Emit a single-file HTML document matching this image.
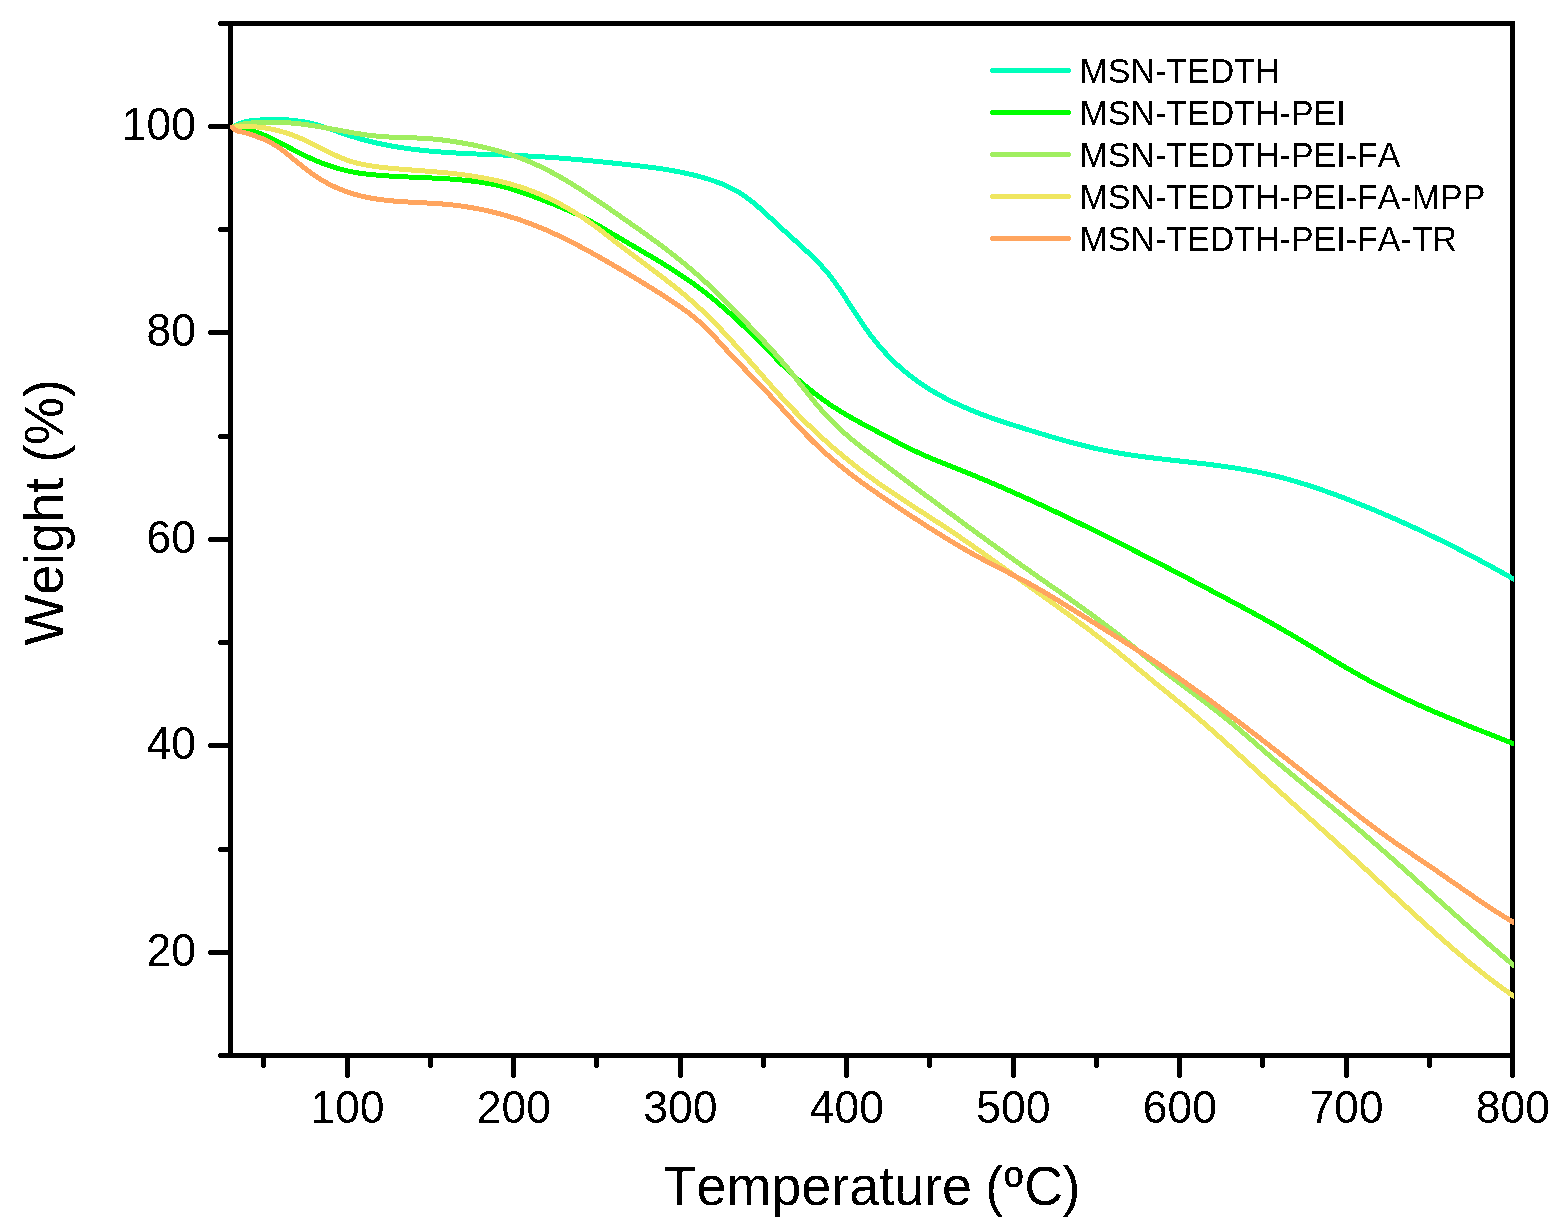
<!DOCTYPE html>
<html lang="en"><head><meta charset="utf-8"><title>TGA curves</title>
<style>html,body{margin:0;padding:0;background:#fff}svg{display:block}text{font-family:"Liberation Sans", sans-serif;fill:#000;font-kerning:none;font-variant-ligatures:none}</style></head><body>
<svg width="1558" height="1225" viewBox="0 0 1558 1225">
<rect x="0" y="0" width="1558" height="1225" fill="#fff"/>
<defs><filter id="hard" x="-5%" y="-20%" width="110%" height="140%" color-interpolation-filters="sRGB"><feComponentTransfer><feFuncA type="discrete" tableValues="0 1"/></feComponentTransfer></filter><clipPath id="plot"><rect x="225" y="20" width="1289" height="1040"/></clipPath></defs>
<g fill="#000" shape-rendering="crispEdges">
<rect x="228" y="21" width="5" height="1037"/>
<rect x="1510" y="21" width="5" height="1056"/><rect x="1511" y="1077" width="3" height="1"/>
<rect x="219" y="21" width="1296" height="5"/><rect x="218" y="22" width="1" height="3"/>
<rect x="219" y="1053" width="1296" height="5"/><rect x="218" y="1054" width="1" height="3"/>
<rect x="209" y="950" width="20" height="5"/><rect x="208" y="951" width="1" height="3"/>
<rect x="209" y="743" width="20" height="5"/><rect x="208" y="744" width="1" height="3"/>
<rect x="209" y="537" width="20" height="5"/><rect x="208" y="538" width="1" height="3"/>
<rect x="209" y="330" width="20" height="5"/><rect x="208" y="331" width="1" height="3"/>
<rect x="209" y="124" width="20" height="5"/><rect x="208" y="125" width="1" height="3"/>
<rect x="219" y="847" width="10" height="5"/><rect x="218" y="848" width="1" height="3"/>
<rect x="219" y="640" width="10" height="5"/><rect x="218" y="641" width="1" height="3"/>
<rect x="219" y="434" width="10" height="5"/><rect x="218" y="435" width="1" height="3"/>
<rect x="219" y="227" width="10" height="5"/><rect x="218" y="228" width="1" height="3"/>
<rect x="345" y="1057" width="5" height="20"/><rect x="346" y="1077" width="3" height="1"/>
<rect x="511" y="1057" width="5" height="20"/><rect x="512" y="1077" width="3" height="1"/>
<rect x="678" y="1057" width="5" height="20"/><rect x="679" y="1077" width="3" height="1"/>
<rect x="844" y="1057" width="5" height="20"/><rect x="845" y="1077" width="3" height="1"/>
<rect x="1011" y="1057" width="5" height="20"/><rect x="1012" y="1077" width="3" height="1"/>
<rect x="1177" y="1057" width="5" height="20"/><rect x="1178" y="1077" width="3" height="1"/>
<rect x="1344" y="1057" width="5" height="20"/><rect x="1345" y="1077" width="3" height="1"/>
<rect x="261" y="1057" width="5" height="10"/><rect x="262" y="1067" width="3" height="1"/>
<rect x="428" y="1057" width="5" height="10"/><rect x="429" y="1067" width="3" height="1"/>
<rect x="594" y="1057" width="5" height="10"/><rect x="595" y="1067" width="3" height="1"/>
<rect x="761" y="1057" width="5" height="10"/><rect x="762" y="1067" width="3" height="1"/>
<rect x="927" y="1057" width="5" height="10"/><rect x="928" y="1067" width="3" height="1"/>
<rect x="1094" y="1057" width="5" height="10"/><rect x="1095" y="1067" width="3" height="1"/>
<rect x="1260" y="1057" width="5" height="10"/><rect x="1261" y="1067" width="3" height="1"/>
<rect x="1427" y="1057" width="5" height="10"/><rect x="1428" y="1067" width="3" height="1"/>
</g>
<g fill="none" stroke-width="5" stroke-linejoin="round" stroke-linecap="butt" shape-rendering="crispEdges" clip-path="url(#plot)">
<path stroke="#00FFBC" d="M232.3,127.30 L234.3,126.07 L236.3,125.00 L238.3,124.08 L240.3,123.28 L242.3,122.61 L244.3,122.05 L246.3,121.58 L248.3,121.20 L250.3,120.89 L252.3,120.64 L254.3,120.44 L256.3,120.28 L258.3,120.14 L260.3,120.01 L262.3,119.90 L264.3,119.80 L266.3,119.72 L268.3,119.65 L270.3,119.60 L272.3,119.56 L274.3,119.54 L276.3,119.54 L278.3,119.56 L280.3,119.60 L282.3,119.66 L284.3,119.74 L286.3,119.85 L288.3,119.98 L290.3,120.14 L292.3,120.32 L294.3,120.52 L296.3,120.76 L298.3,121.02 L300.3,121.31 L302.3,121.63 L304.3,121.99 L306.3,122.37 L308.3,122.79 L310.3,123.24 L312.3,123.72 L314.3,124.23 L316.3,124.76 L318.3,125.33 L320.3,125.91 L322.3,126.51 L324.3,127.14 L326.3,127.78 L328.3,128.43 L330.3,129.09 L332.3,129.76 L334.3,130.44 L336.3,131.13 L338.3,131.81 L340.3,132.50 L342.3,133.18 L344.3,133.86 L346.3,134.54 L348.3,135.20 L350.3,135.86 L352.3,136.50 L354.3,137.13 L356.3,137.73 L358.3,138.33 L360.3,138.90 L362.3,139.45 L364.3,140.00 L366.3,140.52 L368.3,141.03 L370.3,141.52 L372.3,142.00 L374.3,142.47 L376.3,142.92 L378.3,143.36 L380.3,143.79 L382.3,144.20 L384.3,144.61 L386.3,145.00 L388.3,145.38 L390.3,145.75 L392.3,146.11 L394.3,146.46 L396.3,146.79 L398.3,147.12 L400.3,147.44 L402.3,147.74 L404.3,148.04 L406.3,148.33 L408.3,148.61 L410.3,148.88 L412.3,149.14 L414.3,149.39 L416.3,149.63 L418.3,149.87 L420.3,150.10 L422.3,150.31 L424.3,150.53 L426.3,150.73 L428.3,150.93 L430.3,151.12 L432.3,151.30 L434.3,151.48 L436.3,151.64 L438.3,151.81 L440.3,151.97 L442.3,152.12 L444.3,152.26 L446.3,152.40 L448.3,152.54 L450.3,152.67 L452.3,152.80 L454.3,152.92 L456.3,153.03 L458.3,153.15 L460.3,153.25 L462.3,153.36 L464.3,153.46 L466.3,153.56 L468.3,153.65 L470.3,153.75 L472.3,153.83 L474.3,153.92 L476.3,154.00 L478.3,154.09 L480.3,154.17 L482.3,154.25 L484.3,154.32 L486.3,154.40 L488.3,154.47 L490.3,154.55 L492.3,154.62 L494.3,154.69 L496.3,154.76 L498.3,154.84 L500.3,154.91 L502.3,154.98 L504.3,155.05 L506.3,155.13 L508.3,155.20 L510.3,155.28 L512.3,155.36 L514.3,155.44 L516.3,155.52 L518.3,155.60 L520.3,155.68 L522.3,155.77 L524.3,155.86 L526.3,155.95 L528.3,156.05 L530.3,156.15 L532.3,156.25 L534.3,156.36 L536.3,156.47 L538.3,156.58 L540.3,156.70 L542.3,156.82 L544.3,156.95 L546.3,157.08 L548.3,157.21 L550.3,157.35 L552.3,157.49 L554.3,157.64 L556.3,157.79 L558.3,157.94 L560.3,158.09 L562.3,158.25 L564.3,158.41 L566.3,158.58 L568.3,158.75 L570.3,158.92 L572.3,159.09 L574.3,159.27 L576.3,159.45 L578.3,159.63 L580.3,159.81 L582.3,160.00 L584.3,160.18 L586.3,160.37 L588.3,160.57 L590.3,160.76 L592.3,160.95 L594.3,161.15 L596.3,161.35 L598.3,161.55 L600.3,161.75 L602.3,161.96 L604.3,162.16 L606.3,162.37 L608.3,162.58 L610.3,162.78 L612.3,162.99 L614.3,163.20 L616.3,163.41 L618.3,163.62 L620.3,163.84 L622.3,164.05 L624.3,164.26 L626.3,164.47 L628.3,164.69 L630.3,164.90 L632.3,165.12 L634.3,165.34 L636.3,165.57 L638.3,165.80 L640.3,166.03 L642.3,166.26 L644.3,166.50 L646.3,166.75 L648.3,167.00 L650.3,167.26 L652.3,167.52 L654.3,167.79 L656.3,168.06 L658.3,168.35 L660.3,168.64 L662.3,168.94 L664.3,169.25 L666.3,169.57 L668.3,169.90 L670.3,170.24 L672.3,170.58 L674.3,170.94 L676.3,171.31 L678.3,171.70 L680.3,172.09 L682.3,172.50 L684.3,172.92 L686.3,173.35 L688.3,173.80 L690.3,174.26 L692.3,174.74 L694.3,175.23 L696.3,175.73 L698.3,176.26 L700.3,176.79 L702.3,177.35 L704.3,177.92 L706.3,178.51 L708.3,179.12 L710.3,179.75 L712.3,180.40 L714.3,181.08 L716.3,181.79 L718.3,182.52 L720.3,183.29 L722.3,184.09 L724.3,184.94 L726.3,185.82 L728.3,186.74 L730.3,187.70 L732.3,188.71 L734.3,189.77 L736.3,190.89 L738.3,192.05 L740.3,193.27 L742.3,194.55 L744.3,195.88 L746.3,197.28 L748.3,198.75 L750.3,200.27 L752.3,201.85 L754.3,203.49 L756.3,205.16 L758.3,206.89 L760.3,208.64 L762.3,210.43 L764.3,212.25 L766.3,214.09 L768.3,215.94 L770.3,217.81 L772.3,219.69 L774.3,221.56 L776.3,223.44 L778.3,225.31 L780.3,227.16 L782.3,229.01 L784.3,230.83 L786.3,232.65 L788.3,234.46 L790.3,236.26 L792.3,238.06 L794.3,239.87 L796.3,241.67 L798.3,243.48 L800.3,245.30 L802.3,247.13 L804.3,248.98 L806.3,250.84 L808.3,252.73 L810.3,254.64 L812.3,256.57 L814.3,258.53 L816.3,260.53 L818.3,262.57 L820.3,264.66 L822.3,266.82 L824.3,269.04 L826.3,271.35 L828.3,273.74 L830.3,276.23 L832.3,278.83 L834.3,281.53 L836.3,284.32 L838.3,287.18 L840.3,290.11 L842.3,293.10 L844.3,296.13 L846.3,299.19 L848.3,302.28 L850.3,305.38 L852.3,308.48 L854.3,311.57 L856.3,314.64 L858.3,317.68 L860.3,320.68 L862.3,323.63 L864.3,326.51 L866.3,329.33 L868.3,332.07 L870.3,334.75 L872.3,337.36 L874.3,339.90 L876.3,342.38 L878.3,344.80 L880.3,347.15 L882.3,349.44 L884.3,351.68 L886.3,353.85 L888.3,355.97 L890.3,358.04 L892.3,360.05 L894.3,362.01 L896.3,363.91 L898.3,365.77 L900.3,367.58 L902.3,369.34 L904.3,371.05 L906.3,372.72 L908.3,374.35 L910.3,375.93 L912.3,377.47 L914.3,378.98 L916.3,380.44 L918.3,381.87 L920.3,383.26 L922.3,384.62 L924.3,385.94 L926.3,387.24 L928.3,388.50 L930.3,389.73 L932.3,390.94 L934.3,392.12 L936.3,393.27 L938.3,394.40 L940.3,395.50 L942.3,396.59 L944.3,397.65 L946.3,398.70 L948.3,399.72 L950.3,400.73 L952.3,401.71 L954.3,402.68 L956.3,403.63 L958.3,404.56 L960.3,405.47 L962.3,406.37 L964.3,407.25 L966.3,408.11 L968.3,408.96 L970.3,409.80 L972.3,410.62 L974.3,411.43 L976.3,412.22 L978.3,413.00 L980.3,413.77 L982.3,414.53 L984.3,415.28 L986.3,416.01 L988.3,416.74 L990.3,417.45 L992.3,418.16 L994.3,418.86 L996.3,419.55 L998.3,420.23 L1000.3,420.90 L1002.3,421.57 L1004.3,422.23 L1006.3,422.88 L1008.3,423.53 L1010.3,424.17 L1012.3,424.81 L1014.3,425.45 L1016.3,426.08 L1018.3,426.71 L1020.3,427.34 L1022.3,427.96 L1024.3,428.58 L1026.3,429.21 L1028.3,429.83 L1030.3,430.44 L1032.3,431.06 L1034.3,431.67 L1036.3,432.29 L1038.3,432.90 L1040.3,433.50 L1042.3,434.11 L1044.3,434.71 L1046.3,435.31 L1048.3,435.90 L1050.3,436.49 L1052.3,437.08 L1054.3,437.66 L1056.3,438.24 L1058.3,438.81 L1060.3,439.38 L1062.3,439.94 L1064.3,440.50 L1066.3,441.05 L1068.3,441.60 L1070.3,442.15 L1072.3,442.68 L1074.3,443.21 L1076.3,443.74 L1078.3,444.25 L1080.3,444.76 L1082.3,445.27 L1084.3,445.76 L1086.3,446.25 L1088.3,446.74 L1090.3,447.21 L1092.3,447.68 L1094.3,448.13 L1096.3,448.58 L1098.3,449.02 L1100.3,449.46 L1102.3,449.88 L1104.3,450.29 L1106.3,450.70 L1108.3,451.09 L1110.3,451.48 L1112.3,451.86 L1114.3,452.22 L1116.3,452.58 L1118.3,452.93 L1120.3,453.28 L1122.3,453.61 L1124.3,453.94 L1126.3,454.26 L1128.3,454.57 L1130.3,454.88 L1132.3,455.17 L1134.3,455.47 L1136.3,455.75 L1138.3,456.04 L1140.3,456.31 L1142.3,456.58 L1144.3,456.85 L1146.3,457.11 L1148.3,457.36 L1150.3,457.62 L1152.3,457.86 L1154.3,458.11 L1156.3,458.35 L1158.3,458.59 L1160.3,458.82 L1162.3,459.06 L1164.3,459.29 L1166.3,459.52 L1168.3,459.74 L1170.3,459.97 L1172.3,460.19 L1174.3,460.42 L1176.3,460.64 L1178.3,460.86 L1180.3,461.08 L1182.3,461.31 L1184.3,461.53 L1186.3,461.75 L1188.3,461.98 L1190.3,462.20 L1192.3,462.43 L1194.3,462.66 L1196.3,462.89 L1198.3,463.13 L1200.3,463.36 L1202.3,463.60 L1204.3,463.84 L1206.3,464.08 L1208.3,464.33 L1210.3,464.58 L1212.3,464.84 L1214.3,465.10 L1216.3,465.36 L1218.3,465.62 L1220.3,465.90 L1222.3,466.17 L1224.3,466.45 L1226.3,466.74 L1228.3,467.03 L1230.3,467.33 L1232.3,467.63 L1234.3,467.94 L1236.3,468.26 L1238.3,468.58 L1240.3,468.91 L1242.3,469.25 L1244.3,469.59 L1246.3,469.94 L1248.3,470.30 L1250.3,470.66 L1252.3,471.04 L1254.3,471.42 L1256.3,471.81 L1258.3,472.21 L1260.3,472.62 L1262.3,473.04 L1264.3,473.47 L1266.3,473.90 L1268.3,474.35 L1270.3,474.81 L1272.3,475.27 L1274.3,475.75 L1276.3,476.24 L1278.3,476.74 L1280.3,477.25 L1282.3,477.76 L1284.3,478.29 L1286.3,478.83 L1288.3,479.38 L1290.3,479.94 L1292.3,480.51 L1294.3,481.08 L1296.3,481.67 L1298.3,482.26 L1300.3,482.87 L1302.3,483.48 L1304.3,484.10 L1306.3,484.73 L1308.3,485.37 L1310.3,486.01 L1312.3,486.67 L1314.3,487.33 L1316.3,488.00 L1318.3,488.67 L1320.3,489.36 L1322.3,490.05 L1324.3,490.75 L1326.3,491.45 L1328.3,492.17 L1330.3,492.88 L1332.3,493.61 L1334.3,494.34 L1336.3,495.08 L1338.3,495.82 L1340.3,496.57 L1342.3,497.33 L1344.3,498.09 L1346.3,498.86 L1348.3,499.63 L1350.3,500.41 L1352.3,501.19 L1354.3,501.98 L1356.3,502.77 L1358.3,503.57 L1360.3,504.37 L1362.3,505.17 L1364.3,505.98 L1366.3,506.80 L1368.3,507.62 L1370.3,508.44 L1372.3,509.27 L1374.3,510.10 L1376.3,510.94 L1378.3,511.78 L1380.3,512.63 L1382.3,513.48 L1384.3,514.34 L1386.3,515.20 L1388.3,516.06 L1390.3,516.93 L1392.3,517.80 L1394.3,518.68 L1396.3,519.56 L1398.3,520.45 L1400.3,521.34 L1402.3,522.24 L1404.3,523.14 L1406.3,524.04 L1408.3,524.95 L1410.3,525.86 L1412.3,526.78 L1414.3,527.70 L1416.3,528.63 L1418.3,529.56 L1420.3,530.50 L1422.3,531.44 L1424.3,532.38 L1426.3,533.33 L1428.3,534.29 L1430.3,535.25 L1432.3,536.21 L1434.3,537.17 L1436.3,538.15 L1438.3,539.12 L1440.3,540.10 L1442.3,541.09 L1444.3,542.08 L1446.3,543.07 L1448.3,544.07 L1450.3,545.07 L1452.3,546.08 L1454.3,547.09 L1456.3,548.10 L1458.3,549.12 L1460.3,550.15 L1462.3,551.18 L1464.3,552.21 L1466.3,553.25 L1468.3,554.29 L1470.3,555.34 L1472.3,556.39 L1474.3,557.44 L1476.3,558.50 L1478.3,559.57 L1480.3,560.64 L1482.3,561.71 L1484.3,562.79 L1486.3,563.87 L1488.3,564.95 L1490.3,566.04 L1492.3,567.14 L1494.3,568.24 L1496.3,569.34 L1498.3,570.45 L1500.3,571.56 L1502.3,572.68 L1504.3,573.80 L1506.3,574.92 L1508.3,576.05 L1510.3,577.19 L1512.3,578.33 L1514.3,579.47 L1516.3,580.61 L1518.0,581.59"/>
<circle cx="232.3" cy="127.3" r="2.5" fill="#00FFBC" stroke="none"/>
<path stroke="#00FF00" d="M232.3,127.30 L234.3,127.40 L236.3,127.55 L238.3,127.77 L240.3,128.05 L242.3,128.39 L244.3,128.78 L246.3,129.22 L248.3,129.71 L250.3,130.26 L252.3,130.85 L254.3,131.48 L256.3,132.16 L258.3,132.88 L260.3,133.63 L262.3,134.43 L264.3,135.26 L266.3,136.12 L268.3,137.01 L270.3,137.93 L272.3,138.88 L274.3,139.85 L276.3,140.84 L278.3,141.86 L280.3,142.89 L282.3,143.93 L284.3,144.99 L286.3,146.04 L288.3,147.11 L290.3,148.17 L292.3,149.22 L294.3,150.27 L296.3,151.31 L298.3,152.34 L300.3,153.36 L302.3,154.36 L304.3,155.34 L306.3,156.30 L308.3,157.24 L310.3,158.16 L312.3,159.05 L314.3,159.93 L316.3,160.77 L318.3,161.60 L320.3,162.40 L322.3,163.17 L324.3,163.92 L326.3,164.65 L328.3,165.35 L330.3,166.03 L332.3,166.69 L334.3,167.32 L336.3,167.92 L338.3,168.50 L340.3,169.06 L342.3,169.59 L344.3,170.10 L346.3,170.58 L348.3,171.04 L350.3,171.47 L352.3,171.87 L354.3,172.26 L356.3,172.61 L358.3,172.94 L360.3,173.25 L362.3,173.54 L364.3,173.81 L366.3,174.06 L368.3,174.29 L370.3,174.50 L372.3,174.70 L374.3,174.89 L376.3,175.07 L378.3,175.24 L380.3,175.40 L382.3,175.55 L384.3,175.69 L386.3,175.83 L388.3,175.96 L390.3,176.09 L392.3,176.20 L394.3,176.32 L396.3,176.43 L398.3,176.53 L400.3,176.63 L402.3,176.73 L404.3,176.82 L406.3,176.91 L408.3,177.00 L410.3,177.08 L412.3,177.17 L414.3,177.25 L416.3,177.33 L418.3,177.42 L420.3,177.50 L422.3,177.58 L424.3,177.67 L426.3,177.75 L428.3,177.84 L430.3,177.93 L432.3,178.02 L434.3,178.12 L436.3,178.22 L438.3,178.32 L440.3,178.43 L442.3,178.54 L444.3,178.66 L446.3,178.78 L448.3,178.91 L450.3,179.05 L452.3,179.19 L454.3,179.34 L456.3,179.50 L458.3,179.67 L460.3,179.84 L462.3,180.02 L464.3,180.22 L466.3,180.42 L468.3,180.63 L470.3,180.86 L472.3,181.10 L474.3,181.35 L476.3,181.61 L478.3,181.89 L480.3,182.18 L482.3,182.48 L484.3,182.80 L486.3,183.14 L488.3,183.50 L490.3,183.87 L492.3,184.26 L494.3,184.67 L496.3,185.10 L498.3,185.54 L500.3,186.01 L502.3,186.50 L504.3,187.02 L506.3,187.55 L508.3,188.11 L510.3,188.68 L512.3,189.28 L514.3,189.89 L516.3,190.52 L518.3,191.17 L520.3,191.83 L522.3,192.51 L524.3,193.20 L526.3,193.90 L528.3,194.62 L530.3,195.34 L532.3,196.07 L534.3,196.81 L536.3,197.55 L538.3,198.31 L540.3,199.06 L542.3,199.82 L544.3,200.59 L546.3,201.36 L548.3,202.14 L550.3,202.93 L552.3,203.72 L554.3,204.53 L556.3,205.34 L558.3,206.16 L560.3,207.00 L562.3,207.84 L564.3,208.70 L566.3,209.56 L568.3,210.44 L570.3,211.34 L572.3,212.25 L574.3,213.17 L576.3,214.11 L578.3,215.06 L580.3,216.03 L582.3,217.02 L584.3,218.03 L586.3,219.05 L588.3,220.09 L590.3,221.15 L592.3,222.23 L594.3,223.33 L596.3,224.44 L598.3,225.56 L600.3,226.70 L602.3,227.85 L604.3,229.01 L606.3,230.17 L608.3,231.35 L610.3,232.53 L612.3,233.71 L614.3,234.89 L616.3,236.08 L618.3,237.27 L620.3,238.45 L622.3,239.63 L624.3,240.81 L626.3,241.99 L628.3,243.16 L630.3,244.33 L632.3,245.50 L634.3,246.66 L636.3,247.83 L638.3,249.00 L640.3,250.17 L642.3,251.34 L644.3,252.51 L646.3,253.69 L648.3,254.87 L650.3,256.05 L652.3,257.24 L654.3,258.43 L656.3,259.63 L658.3,260.84 L660.3,262.05 L662.3,263.27 L664.3,264.50 L666.3,265.74 L668.3,266.99 L670.3,268.25 L672.3,269.52 L674.3,270.81 L676.3,272.10 L678.3,273.41 L680.3,274.73 L682.3,276.07 L684.3,277.42 L686.3,278.78 L688.3,280.17 L690.3,281.56 L692.3,282.98 L694.3,284.41 L696.3,285.87 L698.3,287.34 L700.3,288.83 L702.3,290.34 L704.3,291.88 L706.3,293.43 L708.3,295.01 L710.3,296.61 L712.3,298.23 L714.3,299.87 L716.3,301.53 L718.3,303.21 L720.3,304.91 L722.3,306.63 L724.3,308.37 L726.3,310.13 L728.3,311.90 L730.3,313.70 L732.3,315.51 L734.3,317.34 L736.3,319.18 L738.3,321.05 L740.3,322.92 L742.3,324.82 L744.3,326.73 L746.3,328.65 L748.3,330.59 L750.3,332.55 L752.3,334.52 L754.3,336.50 L756.3,338.49 L758.3,340.50 L760.3,342.52 L762.3,344.55 L764.3,346.58 L766.3,348.62 L768.3,350.66 L770.3,352.70 L772.3,354.73 L774.3,356.76 L776.3,358.78 L778.3,360.79 L780.3,362.79 L782.3,364.77 L784.3,366.73 L786.3,368.67 L788.3,370.59 L790.3,372.48 L792.3,374.35 L794.3,376.18 L796.3,377.99 L798.3,379.78 L800.3,381.53 L802.3,383.26 L804.3,384.96 L806.3,386.63 L808.3,388.28 L810.3,389.90 L812.3,391.50 L814.3,393.06 L816.3,394.61 L818.3,396.13 L820.3,397.62 L822.3,399.08 L824.3,400.53 L826.3,401.94 L828.3,403.34 L830.3,404.71 L832.3,406.05 L834.3,407.37 L836.3,408.67 L838.3,409.94 L840.3,411.19 L842.3,412.41 L844.3,413.62 L846.3,414.80 L848.3,415.97 L850.3,417.12 L852.3,418.25 L854.3,419.37 L856.3,420.47 L858.3,421.56 L860.3,422.65 L862.3,423.72 L864.3,424.79 L866.3,425.86 L868.3,426.92 L870.3,427.97 L872.3,429.03 L874.3,430.09 L876.3,431.15 L878.3,432.21 L880.3,433.27 L882.3,434.33 L884.3,435.39 L886.3,436.45 L888.3,437.50 L890.3,438.56 L892.3,439.61 L894.3,440.65 L896.3,441.69 L898.3,442.73 L900.3,443.76 L902.3,444.78 L904.3,445.79 L906.3,446.79 L908.3,447.79 L910.3,448.78 L912.3,449.75 L914.3,450.71 L916.3,451.66 L918.3,452.60 L920.3,453.53 L922.3,454.44 L924.3,455.34 L926.3,456.22 L928.3,457.08 L930.3,457.94 L932.3,458.78 L934.3,459.61 L936.3,460.43 L938.3,461.24 L940.3,462.05 L942.3,462.85 L944.3,463.64 L946.3,464.44 L948.3,465.22 L950.3,466.01 L952.3,466.80 L954.3,467.59 L956.3,468.38 L958.3,469.17 L960.3,469.97 L962.3,470.77 L964.3,471.58 L966.3,472.39 L968.3,473.20 L970.3,474.02 L972.3,474.84 L974.3,475.66 L976.3,476.49 L978.3,477.32 L980.3,478.15 L982.3,478.99 L984.3,479.83 L986.3,480.67 L988.3,481.52 L990.3,482.37 L992.3,483.22 L994.3,484.08 L996.3,484.94 L998.3,485.80 L1000.3,486.67 L1002.3,487.54 L1004.3,488.41 L1006.3,489.29 L1008.3,490.17 L1010.3,491.05 L1012.3,491.94 L1014.3,492.82 L1016.3,493.71 L1018.3,494.61 L1020.3,495.51 L1022.3,496.41 L1024.3,497.31 L1026.3,498.21 L1028.3,499.12 L1030.3,500.03 L1032.3,500.95 L1034.3,501.87 L1036.3,502.79 L1038.3,503.71 L1040.3,504.63 L1042.3,505.56 L1044.3,506.49 L1046.3,507.42 L1048.3,508.36 L1050.3,509.30 L1052.3,510.24 L1054.3,511.18 L1056.3,512.13 L1058.3,513.08 L1060.3,514.03 L1062.3,514.98 L1064.3,515.93 L1066.3,516.89 L1068.3,517.85 L1070.3,518.81 L1072.3,519.78 L1074.3,520.75 L1076.3,521.71 L1078.3,522.68 L1080.3,523.66 L1082.3,524.63 L1084.3,525.61 L1086.3,526.59 L1088.3,527.57 L1090.3,528.55 L1092.3,529.54 L1094.3,530.53 L1096.3,531.52 L1098.3,532.51 L1100.3,533.50 L1102.3,534.49 L1104.3,535.49 L1106.3,536.49 L1108.3,537.49 L1110.3,538.49 L1112.3,539.49 L1114.3,540.50 L1116.3,541.51 L1118.3,542.51 L1120.3,543.52 L1122.3,544.54 L1124.3,545.55 L1126.3,546.56 L1128.3,547.58 L1130.3,548.60 L1132.3,549.61 L1134.3,550.63 L1136.3,551.66 L1138.3,552.68 L1140.3,553.70 L1142.3,554.73 L1144.3,555.75 L1146.3,556.78 L1148.3,557.81 L1150.3,558.84 L1152.3,559.87 L1154.3,560.91 L1156.3,561.94 L1158.3,562.97 L1160.3,564.01 L1162.3,565.05 L1164.3,566.08 L1166.3,567.12 L1168.3,568.16 L1170.3,569.20 L1172.3,570.24 L1174.3,571.28 L1176.3,572.33 L1178.3,573.37 L1180.3,574.41 L1182.3,575.46 L1184.3,576.50 L1186.3,577.55 L1188.3,578.60 L1190.3,579.65 L1192.3,580.69 L1194.3,581.74 L1196.3,582.79 L1198.3,583.84 L1200.3,584.89 L1202.3,585.94 L1204.3,586.99 L1206.3,588.04 L1208.3,589.10 L1210.3,590.15 L1212.3,591.20 L1214.3,592.25 L1216.3,593.31 L1218.3,594.36 L1220.3,595.42 L1222.3,596.48 L1224.3,597.53 L1226.3,598.59 L1228.3,599.66 L1230.3,600.72 L1232.3,601.79 L1234.3,602.85 L1236.3,603.92 L1238.3,604.99 L1240.3,606.07 L1242.3,607.14 L1244.3,608.22 L1246.3,609.30 L1248.3,610.39 L1250.3,611.48 L1252.3,612.57 L1254.3,613.66 L1256.3,614.76 L1258.3,615.86 L1260.3,616.96 L1262.3,618.07 L1264.3,619.18 L1266.3,620.30 L1268.3,621.42 L1270.3,622.54 L1272.3,623.67 L1274.3,624.80 L1276.3,625.94 L1278.3,627.08 L1280.3,628.23 L1282.3,629.38 L1284.3,630.54 L1286.3,631.70 L1288.3,632.87 L1290.3,634.04 L1292.3,635.22 L1294.3,636.41 L1296.3,637.60 L1298.3,638.79 L1300.3,639.99 L1302.3,641.19 L1304.3,642.39 L1306.3,643.60 L1308.3,644.81 L1310.3,646.02 L1312.3,647.24 L1314.3,648.45 L1316.3,649.67 L1318.3,650.88 L1320.3,652.10 L1322.3,653.31 L1324.3,654.53 L1326.3,655.74 L1328.3,656.95 L1330.3,658.16 L1332.3,659.37 L1334.3,660.57 L1336.3,661.77 L1338.3,662.97 L1340.3,664.16 L1342.3,665.35 L1344.3,666.53 L1346.3,667.71 L1348.3,668.88 L1350.3,670.04 L1352.3,671.20 L1354.3,672.35 L1356.3,673.49 L1358.3,674.63 L1360.3,675.76 L1362.3,676.87 L1364.3,677.98 L1366.3,679.08 L1368.3,680.17 L1370.3,681.25 L1372.3,682.32 L1374.3,683.38 L1376.3,684.44 L1378.3,685.48 L1380.3,686.51 L1382.3,687.54 L1384.3,688.56 L1386.3,689.57 L1388.3,690.57 L1390.3,691.56 L1392.3,692.55 L1394.3,693.53 L1396.3,694.50 L1398.3,695.46 L1400.3,696.42 L1402.3,697.37 L1404.3,698.31 L1406.3,699.25 L1408.3,700.18 L1410.3,701.10 L1412.3,702.01 L1414.3,702.92 L1416.3,703.83 L1418.3,704.73 L1420.3,705.62 L1422.3,706.51 L1424.3,707.39 L1426.3,708.27 L1428.3,709.14 L1430.3,710.00 L1432.3,710.87 L1434.3,711.72 L1436.3,712.58 L1438.3,713.43 L1440.3,714.27 L1442.3,715.11 L1444.3,715.95 L1446.3,716.78 L1448.3,717.61 L1450.3,718.44 L1452.3,719.26 L1454.3,720.08 L1456.3,720.90 L1458.3,721.71 L1460.3,722.52 L1462.3,723.33 L1464.3,724.14 L1466.3,724.95 L1468.3,725.75 L1470.3,726.55 L1472.3,727.35 L1474.3,728.15 L1476.3,728.94 L1478.3,729.74 L1480.3,730.53 L1482.3,731.33 L1484.3,732.12 L1486.3,732.91 L1488.3,733.71 L1490.3,734.50 L1492.3,735.29 L1494.3,736.08 L1496.3,736.87 L1498.3,737.66 L1500.3,738.45 L1502.3,739.25 L1504.3,740.04 L1506.3,740.84 L1508.3,741.63 L1510.3,742.43 L1512.3,743.23 L1514.3,744.03 L1516.3,744.83 L1518.0,745.51"/>
<circle cx="232.3" cy="127.3" r="2.5" fill="#00FF00" stroke="none"/>
<path stroke="#A0EE60" d="M232.3,127.30 L234.3,126.47 L236.3,125.76 L238.3,125.15 L240.3,124.63 L242.3,124.19 L244.3,123.83 L246.3,123.53 L248.3,123.29 L250.3,123.10 L252.3,122.94 L254.3,122.82 L256.3,122.72 L258.3,122.63 L260.3,122.55 L262.3,122.47 L264.3,122.40 L266.3,122.34 L268.3,122.30 L270.3,122.26 L272.3,122.24 L274.3,122.24 L276.3,122.26 L278.3,122.30 L280.3,122.36 L282.3,122.44 L284.3,122.54 L286.3,122.66 L288.3,122.79 L290.3,122.94 L292.3,123.11 L294.3,123.29 L296.3,123.49 L298.3,123.70 L300.3,123.93 L302.3,124.18 L304.3,124.43 L306.3,124.70 L308.3,124.98 L310.3,125.28 L312.3,125.58 L314.3,125.89 L316.3,126.22 L318.3,126.55 L320.3,126.89 L322.3,127.24 L324.3,127.59 L326.3,127.95 L328.3,128.31 L330.3,128.68 L332.3,129.04 L334.3,129.41 L336.3,129.79 L338.3,130.16 L340.3,130.53 L342.3,130.89 L344.3,131.26 L346.3,131.62 L348.3,131.98 L350.3,132.33 L352.3,132.68 L354.3,133.02 L356.3,133.35 L358.3,133.68 L360.3,133.99 L362.3,134.29 L364.3,134.59 L366.3,134.87 L368.3,135.14 L370.3,135.39 L372.3,135.63 L374.3,135.86 L376.3,136.07 L378.3,136.26 L380.3,136.43 L382.3,136.59 L384.3,136.73 L386.3,136.86 L388.3,136.97 L390.3,137.08 L392.3,137.17 L394.3,137.25 L396.3,137.33 L398.3,137.40 L400.3,137.47 L402.3,137.53 L404.3,137.59 L406.3,137.65 L408.3,137.71 L410.3,137.77 L412.3,137.83 L414.3,137.90 L416.3,137.97 L418.3,138.05 L420.3,138.14 L422.3,138.24 L424.3,138.35 L426.3,138.47 L428.3,138.61 L430.3,138.76 L432.3,138.93 L434.3,139.11 L436.3,139.30 L438.3,139.51 L440.3,139.73 L442.3,139.97 L444.3,140.22 L446.3,140.48 L448.3,140.75 L450.3,141.03 L452.3,141.33 L454.3,141.63 L456.3,141.95 L458.3,142.27 L460.3,142.60 L462.3,142.95 L464.3,143.30 L466.3,143.66 L468.3,144.03 L470.3,144.41 L472.3,144.80 L474.3,145.20 L476.3,145.61 L478.3,146.04 L480.3,146.47 L482.3,146.92 L484.3,147.37 L486.3,147.84 L488.3,148.33 L490.3,148.82 L492.3,149.33 L494.3,149.86 L496.3,150.40 L498.3,150.95 L500.3,151.52 L502.3,152.10 L504.3,152.70 L506.3,153.32 L508.3,153.95 L510.3,154.60 L512.3,155.26 L514.3,155.94 L516.3,156.64 L518.3,157.36 L520.3,158.10 L522.3,158.86 L524.3,159.63 L526.3,160.43 L528.3,161.24 L530.3,162.08 L532.3,162.93 L534.3,163.81 L536.3,164.71 L538.3,165.63 L540.3,166.57 L542.3,167.53 L544.3,168.52 L546.3,169.52 L548.3,170.55 L550.3,171.59 L552.3,172.66 L554.3,173.74 L556.3,174.84 L558.3,175.95 L560.3,177.09 L562.3,178.24 L564.3,179.40 L566.3,180.58 L568.3,181.78 L570.3,182.99 L572.3,184.21 L574.3,185.45 L576.3,186.70 L578.3,187.96 L580.3,189.23 L582.3,190.52 L584.3,191.81 L586.3,193.12 L588.3,194.43 L590.3,195.75 L592.3,197.09 L594.3,198.42 L596.3,199.77 L598.3,201.13 L600.3,202.49 L602.3,203.85 L604.3,205.23 L606.3,206.60 L608.3,207.98 L610.3,209.37 L612.3,210.76 L614.3,212.15 L616.3,213.54 L618.3,214.94 L620.3,216.33 L622.3,217.73 L624.3,219.13 L626.3,220.53 L628.3,221.93 L630.3,223.33 L632.3,224.73 L634.3,226.14 L636.3,227.55 L638.3,228.96 L640.3,230.38 L642.3,231.80 L644.3,233.23 L646.3,234.67 L648.3,236.11 L650.3,237.55 L652.3,239.01 L654.3,240.47 L656.3,241.94 L658.3,243.42 L660.3,244.91 L662.3,246.40 L664.3,247.91 L666.3,249.43 L668.3,250.96 L670.3,252.50 L672.3,254.05 L674.3,255.62 L676.3,257.20 L678.3,258.79 L680.3,260.39 L682.3,262.02 L684.3,263.65 L686.3,265.30 L688.3,266.97 L690.3,268.65 L692.3,270.35 L694.3,272.07 L696.3,273.80 L698.3,275.55 L700.3,277.33 L702.3,279.12 L704.3,280.93 L706.3,282.76 L708.3,284.61 L710.3,286.48 L712.3,288.37 L714.3,290.28 L716.3,292.20 L718.3,294.15 L720.3,296.10 L722.3,298.08 L724.3,300.07 L726.3,302.07 L728.3,304.08 L730.3,306.11 L732.3,308.15 L734.3,310.20 L736.3,312.26 L738.3,314.33 L740.3,316.40 L742.3,318.49 L744.3,320.58 L746.3,322.68 L748.3,324.79 L750.3,326.90 L752.3,329.02 L754.3,331.14 L756.3,333.26 L758.3,335.39 L760.3,337.52 L762.3,339.65 L764.3,341.80 L766.3,343.95 L768.3,346.12 L770.3,348.30 L772.3,350.50 L774.3,352.71 L776.3,354.95 L778.3,357.21 L780.3,359.50 L782.3,361.82 L784.3,364.16 L786.3,366.54 L788.3,368.95 L790.3,371.40 L792.3,373.88 L794.3,376.40 L796.3,378.94 L798.3,381.50 L800.3,384.06 L802.3,386.63 L804.3,389.19 L806.3,391.73 L808.3,394.25 L810.3,396.75 L812.3,399.21 L814.3,401.64 L816.3,404.04 L818.3,406.39 L820.3,408.71 L822.3,410.98 L824.3,413.21 L826.3,415.38 L828.3,417.51 L830.3,419.60 L832.3,421.63 L834.3,423.63 L836.3,425.58 L838.3,427.48 L840.3,429.35 L842.3,431.18 L844.3,432.97 L846.3,434.72 L848.3,436.44 L850.3,438.12 L852.3,439.78 L854.3,441.42 L856.3,443.03 L858.3,444.61 L860.3,446.18 L862.3,447.73 L864.3,449.27 L866.3,450.80 L868.3,452.31 L870.3,453.82 L872.3,455.33 L874.3,456.83 L876.3,458.33 L878.3,459.83 L880.3,461.34 L882.3,462.84 L884.3,464.34 L886.3,465.84 L888.3,467.34 L890.3,468.84 L892.3,470.34 L894.3,471.83 L896.3,473.33 L898.3,474.83 L900.3,476.33 L902.3,477.82 L904.3,479.32 L906.3,480.81 L908.3,482.31 L910.3,483.80 L912.3,485.30 L914.3,486.79 L916.3,488.28 L918.3,489.77 L920.3,491.26 L922.3,492.75 L924.3,494.24 L926.3,495.73 L928.3,497.21 L930.3,498.70 L932.3,500.19 L934.3,501.67 L936.3,503.15 L938.3,504.64 L940.3,506.12 L942.3,507.60 L944.3,509.08 L946.3,510.55 L948.3,512.03 L950.3,513.51 L952.3,514.98 L954.3,516.46 L956.3,517.93 L958.3,519.40 L960.3,520.87 L962.3,522.34 L964.3,523.81 L966.3,525.27 L968.3,526.74 L970.3,528.20 L972.3,529.67 L974.3,531.13 L976.3,532.59 L978.3,534.04 L980.3,535.50 L982.3,536.96 L984.3,538.41 L986.3,539.86 L988.3,541.31 L990.3,542.76 L992.3,544.21 L994.3,545.66 L996.3,547.10 L998.3,548.54 L1000.3,549.98 L1002.3,551.42 L1004.3,552.86 L1006.3,554.30 L1008.3,555.73 L1010.3,557.16 L1012.3,558.59 L1014.3,560.02 L1016.3,561.45 L1018.3,562.88 L1020.3,564.30 L1022.3,565.72 L1024.3,567.14 L1026.3,568.56 L1028.3,569.97 L1030.3,571.38 L1032.3,572.80 L1034.3,574.21 L1036.3,575.61 L1038.3,577.02 L1040.3,578.42 L1042.3,579.82 L1044.3,581.22 L1046.3,582.62 L1048.3,584.01 L1050.3,585.41 L1052.3,586.80 L1054.3,588.20 L1056.3,589.59 L1058.3,590.99 L1060.3,592.39 L1062.3,593.78 L1064.3,595.18 L1066.3,596.58 L1068.3,597.99 L1070.3,599.39 L1072.3,600.80 L1074.3,602.21 L1076.3,603.62 L1078.3,605.04 L1080.3,606.47 L1082.3,607.89 L1084.3,609.32 L1086.3,610.76 L1088.3,612.20 L1090.3,613.65 L1092.3,615.11 L1094.3,616.57 L1096.3,618.04 L1098.3,619.51 L1100.3,620.99 L1102.3,622.48 L1104.3,623.98 L1106.3,625.49 L1108.3,627.00 L1110.3,628.53 L1112.3,630.06 L1114.3,631.60 L1116.3,633.16 L1118.3,634.72 L1120.3,636.29 L1122.3,637.87 L1124.3,639.47 L1126.3,641.06 L1128.3,642.67 L1130.3,644.28 L1132.3,645.91 L1134.3,647.53 L1136.3,649.17 L1138.3,650.81 L1140.3,652.46 L1142.3,654.10 L1144.3,655.75 L1146.3,657.39 L1148.3,659.03 L1150.3,660.65 L1152.3,662.27 L1154.3,663.87 L1156.3,665.45 L1158.3,667.03 L1160.3,668.58 L1162.3,670.13 L1164.3,671.67 L1166.3,673.19 L1168.3,674.71 L1170.3,676.22 L1172.3,677.72 L1174.3,679.21 L1176.3,680.71 L1178.3,682.19 L1180.3,683.68 L1182.3,685.16 L1184.3,686.65 L1186.3,688.13 L1188.3,689.62 L1190.3,691.11 L1192.3,692.60 L1194.3,694.10 L1196.3,695.60 L1198.3,697.10 L1200.3,698.61 L1202.3,700.12 L1204.3,701.64 L1206.3,703.17 L1208.3,704.70 L1210.3,706.24 L1212.3,707.78 L1214.3,709.34 L1216.3,710.90 L1218.3,712.47 L1220.3,714.04 L1222.3,715.63 L1224.3,717.23 L1226.3,718.84 L1228.3,720.45 L1230.3,722.08 L1232.3,723.72 L1234.3,725.38 L1236.3,727.04 L1238.3,728.72 L1240.3,730.41 L1242.3,732.11 L1244.3,733.82 L1246.3,735.54 L1248.3,737.26 L1250.3,739.00 L1252.3,740.73 L1254.3,742.47 L1256.3,744.21 L1258.3,745.96 L1260.3,747.70 L1262.3,749.44 L1264.3,751.18 L1266.3,752.91 L1268.3,754.64 L1270.3,756.36 L1272.3,758.08 L1274.3,759.78 L1276.3,761.48 L1278.3,763.17 L1280.3,764.86 L1282.3,766.53 L1284.3,768.21 L1286.3,769.87 L1288.3,771.54 L1290.3,773.19 L1292.3,774.84 L1294.3,776.49 L1296.3,778.14 L1298.3,779.78 L1300.3,781.42 L1302.3,783.05 L1304.3,784.68 L1306.3,786.31 L1308.3,787.94 L1310.3,789.57 L1312.3,791.20 L1314.3,792.82 L1316.3,794.45 L1318.3,796.08 L1320.3,797.70 L1322.3,799.33 L1324.3,800.96 L1326.3,802.59 L1328.3,804.22 L1330.3,805.86 L1332.3,807.49 L1334.3,809.13 L1336.3,810.78 L1338.3,812.42 L1340.3,814.08 L1342.3,815.73 L1344.3,817.39 L1346.3,819.06 L1348.3,820.73 L1350.3,822.41 L1352.3,824.09 L1354.3,825.78 L1356.3,827.48 L1358.3,829.18 L1360.3,830.88 L1362.3,832.59 L1364.3,834.30 L1366.3,836.02 L1368.3,837.75 L1370.3,839.48 L1372.3,841.21 L1374.3,842.95 L1376.3,844.69 L1378.3,846.43 L1380.3,848.18 L1382.3,849.93 L1384.3,851.69 L1386.3,853.45 L1388.3,855.21 L1390.3,856.97 L1392.3,858.74 L1394.3,860.51 L1396.3,862.28 L1398.3,864.06 L1400.3,865.83 L1402.3,867.61 L1404.3,869.39 L1406.3,871.18 L1408.3,872.96 L1410.3,874.74 L1412.3,876.53 L1414.3,878.32 L1416.3,880.11 L1418.3,881.90 L1420.3,883.69 L1422.3,885.48 L1424.3,887.27 L1426.3,889.06 L1428.3,890.85 L1430.3,892.64 L1432.3,894.44 L1434.3,896.23 L1436.3,898.02 L1438.3,899.81 L1440.3,901.60 L1442.3,903.38 L1444.3,905.17 L1446.3,906.96 L1448.3,908.74 L1450.3,910.52 L1452.3,912.30 L1454.3,914.08 L1456.3,915.86 L1458.3,917.64 L1460.3,919.41 L1462.3,921.18 L1464.3,922.95 L1466.3,924.71 L1468.3,926.47 L1470.3,928.23 L1472.3,929.99 L1474.3,931.74 L1476.3,933.49 L1478.3,935.23 L1480.3,936.97 L1482.3,938.71 L1484.3,940.44 L1486.3,942.17 L1488.3,943.90 L1490.3,945.62 L1492.3,947.33 L1494.3,949.04 L1496.3,950.75 L1498.3,952.45 L1500.3,954.14 L1502.3,955.83 L1504.3,957.52 L1506.3,959.20 L1508.3,960.87 L1510.3,962.54 L1512.3,964.20 L1514.3,965.85 L1516.3,967.50 L1518.0,968.89"/>
<circle cx="232.3" cy="127.3" r="2.5" fill="#A0EE60" stroke="none"/>
<path stroke="#EFE660" d="M232.3,127.29 L234.3,127.10 L236.3,126.93 L238.3,126.79 L240.3,126.68 L242.3,126.61 L244.3,126.56 L246.3,126.55 L248.3,126.57 L250.3,126.62 L252.3,126.70 L254.3,126.81 L256.3,126.96 L258.3,127.13 L260.3,127.34 L262.3,127.58 L264.3,127.85 L266.3,128.16 L268.3,128.49 L270.3,128.86 L272.3,129.27 L274.3,129.70 L276.3,130.17 L278.3,130.67 L280.3,131.21 L282.3,131.77 L284.3,132.37 L286.3,133.00 L288.3,133.65 L290.3,134.34 L292.3,135.06 L294.3,135.80 L296.3,136.58 L298.3,137.38 L300.3,138.21 L302.3,139.06 L304.3,139.95 L306.3,140.85 L308.3,141.79 L310.3,142.75 L312.3,143.72 L314.3,144.72 L316.3,145.73 L318.3,146.75 L320.3,147.77 L322.3,148.79 L324.3,149.82 L326.3,150.83 L328.3,151.84 L330.3,152.83 L332.3,153.81 L334.3,154.76 L336.3,155.68 L338.3,156.58 L340.3,157.44 L342.3,158.27 L344.3,159.05 L346.3,159.80 L348.3,160.50 L350.3,161.17 L352.3,161.79 L354.3,162.37 L356.3,162.92 L358.3,163.42 L360.3,163.89 L362.3,164.33 L364.3,164.73 L366.3,165.11 L368.3,165.46 L370.3,165.79 L372.3,166.10 L374.3,166.38 L376.3,166.65 L378.3,166.91 L380.3,167.16 L382.3,167.39 L384.3,167.62 L386.3,167.84 L388.3,168.04 L390.3,168.24 L392.3,168.44 L394.3,168.62 L396.3,168.80 L398.3,168.97 L400.3,169.14 L402.3,169.30 L404.3,169.46 L406.3,169.62 L408.3,169.77 L410.3,169.92 L412.3,170.07 L414.3,170.22 L416.3,170.36 L418.3,170.51 L420.3,170.66 L422.3,170.81 L424.3,170.96 L426.3,171.11 L428.3,171.27 L430.3,171.43 L432.3,171.59 L434.3,171.76 L436.3,171.93 L438.3,172.10 L440.3,172.28 L442.3,172.47 L444.3,172.66 L446.3,172.86 L448.3,173.06 L450.3,173.27 L452.3,173.49 L454.3,173.71 L456.3,173.94 L458.3,174.18 L460.3,174.42 L462.3,174.68 L464.3,174.94 L466.3,175.21 L468.3,175.48 L470.3,175.77 L472.3,176.07 L474.3,176.38 L476.3,176.69 L478.3,177.02 L480.3,177.36 L482.3,177.71 L484.3,178.07 L486.3,178.45 L488.3,178.83 L490.3,179.23 L492.3,179.64 L494.3,180.07 L496.3,180.51 L498.3,180.97 L500.3,181.44 L502.3,181.92 L504.3,182.42 L506.3,182.94 L508.3,183.47 L510.3,184.02 L512.3,184.58 L514.3,185.16 L516.3,185.76 L518.3,186.38 L520.3,187.02 L522.3,187.67 L524.3,188.34 L526.3,189.04 L528.3,189.75 L530.3,190.48 L532.3,191.24 L534.3,192.01 L536.3,192.81 L538.3,193.63 L540.3,194.47 L542.3,195.33 L544.3,196.21 L546.3,197.12 L548.3,198.04 L550.3,198.99 L552.3,199.97 L554.3,200.96 L556.3,201.98 L558.3,203.02 L560.3,204.08 L562.3,205.17 L564.3,206.28 L566.3,207.41 L568.3,208.57 L570.3,209.75 L572.3,210.95 L574.3,212.17 L576.3,213.42 L578.3,214.70 L580.3,215.99 L582.3,217.31 L584.3,218.66 L586.3,220.02 L588.3,221.41 L590.3,222.83 L592.3,224.27 L594.3,225.72 L596.3,227.20 L598.3,228.69 L600.3,230.20 L602.3,231.72 L604.3,233.25 L606.3,234.78 L608.3,236.33 L610.3,237.87 L612.3,239.42 L614.3,240.98 L616.3,242.52 L618.3,244.07 L620.3,245.61 L622.3,247.14 L624.3,248.67 L626.3,250.18 L628.3,251.69 L630.3,253.19 L632.3,254.69 L634.3,256.18 L636.3,257.67 L638.3,259.16 L640.3,260.64 L642.3,262.13 L644.3,263.61 L646.3,265.10 L648.3,266.58 L650.3,268.07 L652.3,269.57 L654.3,271.07 L656.3,272.57 L658.3,274.08 L660.3,275.60 L662.3,277.12 L664.3,278.66 L666.3,280.20 L668.3,281.75 L670.3,283.32 L672.3,284.90 L674.3,286.49 L676.3,288.10 L678.3,289.72 L680.3,291.36 L682.3,293.01 L684.3,294.68 L686.3,296.37 L688.3,298.08 L690.3,299.81 L692.3,301.57 L694.3,303.34 L696.3,305.14 L698.3,306.96 L700.3,308.81 L702.3,310.68 L704.3,312.58 L706.3,314.51 L708.3,316.46 L710.3,318.44 L712.3,320.45 L714.3,322.48 L716.3,324.53 L718.3,326.61 L720.3,328.71 L722.3,330.82 L724.3,332.96 L726.3,335.11 L728.3,337.28 L730.3,339.47 L732.3,341.67 L734.3,343.88 L736.3,346.10 L738.3,348.34 L740.3,350.58 L742.3,352.84 L744.3,355.10 L746.3,357.36 L748.3,359.64 L750.3,361.91 L752.3,364.19 L754.3,366.47 L756.3,368.76 L758.3,371.04 L760.3,373.32 L762.3,375.59 L764.3,377.87 L766.3,380.14 L768.3,382.40 L770.3,384.66 L772.3,386.90 L774.3,389.14 L776.3,391.37 L778.3,393.58 L780.3,395.79 L782.3,397.98 L784.3,400.15 L786.3,402.31 L788.3,404.45 L790.3,406.57 L792.3,408.68 L794.3,410.76 L796.3,412.83 L798.3,414.87 L800.3,416.90 L802.3,418.91 L804.3,420.89 L806.3,422.87 L808.3,424.82 L810.3,426.75 L812.3,428.67 L814.3,430.57 L816.3,432.45 L818.3,434.32 L820.3,436.16 L822.3,437.99 L824.3,439.81 L826.3,441.60 L828.3,443.38 L830.3,445.15 L832.3,446.90 L834.3,448.63 L836.3,450.34 L838.3,452.04 L840.3,453.73 L842.3,455.40 L844.3,457.05 L846.3,458.69 L848.3,460.31 L850.3,461.92 L852.3,463.52 L854.3,465.10 L856.3,466.67 L858.3,468.22 L860.3,469.76 L862.3,471.28 L864.3,472.79 L866.3,474.29 L868.3,475.78 L870.3,477.25 L872.3,478.71 L874.3,480.15 L876.3,481.59 L878.3,483.01 L880.3,484.42 L882.3,485.82 L884.3,487.21 L886.3,488.59 L888.3,489.96 L890.3,491.32 L892.3,492.68 L894.3,494.02 L896.3,495.36 L898.3,496.69 L900.3,498.02 L902.3,499.34 L904.3,500.65 L906.3,501.96 L908.3,503.27 L910.3,504.57 L912.3,505.87 L914.3,507.16 L916.3,508.46 L918.3,509.75 L920.3,511.04 L922.3,512.33 L924.3,513.62 L926.3,514.91 L928.3,516.20 L930.3,517.49 L932.3,518.79 L934.3,520.09 L936.3,521.39 L938.3,522.69 L940.3,524.00 L942.3,525.31 L944.3,526.63 L946.3,527.95 L948.3,529.28 L950.3,530.62 L952.3,531.96 L954.3,533.31 L956.3,534.66 L958.3,536.02 L960.3,537.38 L962.3,538.75 L964.3,540.13 L966.3,541.50 L968.3,542.89 L970.3,544.27 L972.3,545.67 L974.3,547.06 L976.3,548.46 L978.3,549.86 L980.3,551.27 L982.3,552.68 L984.3,554.09 L986.3,555.51 L988.3,556.93 L990.3,558.35 L992.3,559.77 L994.3,561.20 L996.3,562.63 L998.3,564.06 L1000.3,565.49 L1002.3,566.92 L1004.3,568.36 L1006.3,569.79 L1008.3,571.23 L1010.3,572.67 L1012.3,574.11 L1014.3,575.55 L1016.3,576.99 L1018.3,578.43 L1020.3,579.86 L1022.3,581.30 L1024.3,582.74 L1026.3,584.18 L1028.3,585.62 L1030.3,587.06 L1032.3,588.49 L1034.3,589.93 L1036.3,591.36 L1038.3,592.79 L1040.3,594.23 L1042.3,595.66 L1044.3,597.10 L1046.3,598.53 L1048.3,599.97 L1050.3,601.40 L1052.3,602.84 L1054.3,604.28 L1056.3,605.72 L1058.3,607.16 L1060.3,608.61 L1062.3,610.06 L1064.3,611.51 L1066.3,612.96 L1068.3,614.41 L1070.3,615.87 L1072.3,617.34 L1074.3,618.80 L1076.3,620.28 L1078.3,621.75 L1080.3,623.23 L1082.3,624.72 L1084.3,626.21 L1086.3,627.70 L1088.3,629.20 L1090.3,630.71 L1092.3,632.22 L1094.3,633.74 L1096.3,635.27 L1098.3,636.80 L1100.3,638.34 L1102.3,639.89 L1104.3,641.44 L1106.3,643.00 L1108.3,644.57 L1110.3,646.15 L1112.3,647.73 L1114.3,649.33 L1116.3,650.93 L1118.3,652.54 L1120.3,654.16 L1122.3,655.79 L1124.3,657.42 L1126.3,659.06 L1128.3,660.70 L1130.3,662.35 L1132.3,663.99 L1134.3,665.64 L1136.3,667.30 L1138.3,668.95 L1140.3,670.60 L1142.3,672.26 L1144.3,673.91 L1146.3,675.56 L1148.3,677.21 L1150.3,678.85 L1152.3,680.49 L1154.3,682.13 L1156.3,683.76 L1158.3,685.38 L1160.3,687.01 L1162.3,688.63 L1164.3,690.25 L1166.3,691.87 L1168.3,693.49 L1170.3,695.11 L1172.3,696.73 L1174.3,698.36 L1176.3,699.99 L1178.3,701.63 L1180.3,703.27 L1182.3,704.91 L1184.3,706.57 L1186.3,708.23 L1188.3,709.91 L1190.3,711.59 L1192.3,713.28 L1194.3,714.98 L1196.3,716.69 L1198.3,718.40 L1200.3,720.13 L1202.3,721.86 L1204.3,723.60 L1206.3,725.34 L1208.3,727.10 L1210.3,728.86 L1212.3,730.62 L1214.3,732.39 L1216.3,734.17 L1218.3,735.95 L1220.3,737.74 L1222.3,739.53 L1224.3,741.32 L1226.3,743.12 L1228.3,744.92 L1230.3,746.73 L1232.3,748.54 L1234.3,750.35 L1236.3,752.17 L1238.3,753.98 L1240.3,755.80 L1242.3,757.62 L1244.3,759.44 L1246.3,761.27 L1248.3,763.09 L1250.3,764.91 L1252.3,766.74 L1254.3,768.56 L1256.3,770.38 L1258.3,772.21 L1260.3,774.03 L1262.3,775.85 L1264.3,777.67 L1266.3,779.48 L1268.3,781.30 L1270.3,783.11 L1272.3,784.92 L1274.3,786.72 L1276.3,788.53 L1278.3,790.33 L1280.3,792.13 L1282.3,793.92 L1284.3,795.72 L1286.3,797.51 L1288.3,799.30 L1290.3,801.09 L1292.3,802.88 L1294.3,804.67 L1296.3,806.46 L1298.3,808.24 L1300.3,810.03 L1302.3,811.81 L1304.3,813.60 L1306.3,815.38 L1308.3,817.17 L1310.3,818.96 L1312.3,820.74 L1314.3,822.53 L1316.3,824.32 L1318.3,826.11 L1320.3,827.90 L1322.3,829.69 L1324.3,831.48 L1326.3,833.28 L1328.3,835.07 L1330.3,836.87 L1332.3,838.67 L1334.3,840.48 L1336.3,842.28 L1338.3,844.09 L1340.3,845.90 L1342.3,847.72 L1344.3,849.54 L1346.3,851.36 L1348.3,853.18 L1350.3,855.01 L1352.3,856.85 L1354.3,858.68 L1356.3,860.52 L1358.3,862.36 L1360.3,864.21 L1362.3,866.06 L1364.3,867.91 L1366.3,869.76 L1368.3,871.61 L1370.3,873.47 L1372.3,875.32 L1374.3,877.18 L1376.3,879.04 L1378.3,880.90 L1380.3,882.75 L1382.3,884.61 L1384.3,886.47 L1386.3,888.33 L1388.3,890.19 L1390.3,892.05 L1392.3,893.91 L1394.3,895.76 L1396.3,897.62 L1398.3,899.47 L1400.3,901.32 L1402.3,903.17 L1404.3,905.02 L1406.3,906.86 L1408.3,908.70 L1410.3,910.54 L1412.3,912.38 L1414.3,914.21 L1416.3,916.04 L1418.3,917.86 L1420.3,919.68 L1422.3,921.50 L1424.3,923.31 L1426.3,925.12 L1428.3,926.92 L1430.3,928.72 L1432.3,930.51 L1434.3,932.30 L1436.3,934.08 L1438.3,935.85 L1440.3,937.62 L1442.3,939.38 L1444.3,941.14 L1446.3,942.88 L1448.3,944.62 L1450.3,946.36 L1452.3,948.08 L1454.3,949.80 L1456.3,951.51 L1458.3,953.21 L1460.3,954.90 L1462.3,956.59 L1464.3,958.26 L1466.3,959.93 L1468.3,961.59 L1470.3,963.23 L1472.3,964.87 L1474.3,966.50 L1476.3,968.11 L1478.3,969.72 L1480.3,971.31 L1482.3,972.90 L1484.3,974.47 L1486.3,976.03 L1488.3,977.58 L1490.3,979.12 L1492.3,980.65 L1494.3,982.16 L1496.3,983.66 L1498.3,985.15 L1500.3,986.62 L1502.3,988.09 L1504.3,989.53 L1506.3,990.97 L1508.3,992.39 L1510.3,993.80 L1512.3,995.19 L1514.3,996.57 L1516.3,997.93 L1518.0,999.08"/>
<circle cx="232.3" cy="127.3" r="2.5" fill="#EFE660" stroke="none"/>
<path stroke="#FFA55F" d="M232.3,127.31 L234.3,129.32 L236.3,130.56 L238.3,131.27 L240.3,131.70 L242.3,132.07 L244.3,132.55 L246.3,133.11 L248.3,133.73 L250.3,134.38 L252.3,135.04 L254.3,135.72 L256.3,136.42 L258.3,137.15 L260.3,137.91 L262.3,138.71 L264.3,139.55 L266.3,140.45 L268.3,141.41 L270.3,142.43 L272.3,143.53 L274.3,144.70 L276.3,145.95 L278.3,147.29 L280.3,148.69 L282.3,150.16 L284.3,151.69 L286.3,153.26 L288.3,154.86 L290.3,156.49 L292.3,158.14 L294.3,159.80 L296.3,161.46 L298.3,163.10 L300.3,164.73 L302.3,166.33 L304.3,167.91 L306.3,169.45 L308.3,170.96 L310.3,172.43 L312.3,173.86 L314.3,175.25 L316.3,176.59 L318.3,177.89 L320.3,179.14 L322.3,180.35 L324.3,181.51 L326.3,182.63 L328.3,183.70 L330.3,184.73 L332.3,185.72 L334.3,186.67 L336.3,187.58 L338.3,188.46 L340.3,189.29 L342.3,190.09 L344.3,190.86 L346.3,191.58 L348.3,192.28 L350.3,192.94 L352.3,193.57 L354.3,194.17 L356.3,194.74 L358.3,195.28 L360.3,195.79 L362.3,196.28 L364.3,196.74 L366.3,197.17 L368.3,197.58 L370.3,197.96 L372.3,198.33 L374.3,198.67 L376.3,198.99 L378.3,199.29 L380.3,199.57 L382.3,199.83 L384.3,200.08 L386.3,200.31 L388.3,200.53 L390.3,200.73 L392.3,200.91 L394.3,201.09 L396.3,201.25 L398.3,201.41 L400.3,201.55 L402.3,201.68 L404.3,201.81 L406.3,201.93 L408.3,202.05 L410.3,202.16 L412.3,202.26 L414.3,202.36 L416.3,202.46 L418.3,202.56 L420.3,202.66 L422.3,202.76 L424.3,202.86 L426.3,202.96 L428.3,203.07 L430.3,203.18 L432.3,203.29 L434.3,203.42 L436.3,203.54 L438.3,203.68 L440.3,203.83 L442.3,203.98 L444.3,204.15 L446.3,204.33 L448.3,204.52 L450.3,204.72 L452.3,204.94 L454.3,205.16 L456.3,205.40 L458.3,205.66 L460.3,205.92 L462.3,206.20 L464.3,206.49 L466.3,206.79 L468.3,207.11 L470.3,207.44 L472.3,207.78 L474.3,208.14 L476.3,208.50 L478.3,208.89 L480.3,209.28 L482.3,209.69 L484.3,210.11 L486.3,210.55 L488.3,210.99 L490.3,211.46 L492.3,211.93 L494.3,212.42 L496.3,212.92 L498.3,213.44 L500.3,213.97 L502.3,214.51 L504.3,215.07 L506.3,215.65 L508.3,216.23 L510.3,216.83 L512.3,217.45 L514.3,218.08 L516.3,218.72 L518.3,219.38 L520.3,220.05 L522.3,220.74 L524.3,221.44 L526.3,222.15 L528.3,222.88 L530.3,223.63 L532.3,224.39 L534.3,225.16 L536.3,225.95 L538.3,226.76 L540.3,227.58 L542.3,228.41 L544.3,229.26 L546.3,230.12 L548.3,231.00 L550.3,231.89 L552.3,232.79 L554.3,233.71 L556.3,234.64 L558.3,235.58 L560.3,236.54 L562.3,237.50 L564.3,238.48 L566.3,239.47 L568.3,240.46 L570.3,241.47 L572.3,242.49 L574.3,243.52 L576.3,244.56 L578.3,245.61 L580.3,246.67 L582.3,247.74 L584.3,248.81 L586.3,249.89 L588.3,250.99 L590.3,252.08 L592.3,253.19 L594.3,254.30 L596.3,255.42 L598.3,256.55 L600.3,257.68 L602.3,258.82 L604.3,259.96 L606.3,261.11 L608.3,262.27 L610.3,263.43 L612.3,264.59 L614.3,265.76 L616.3,266.93 L618.3,268.10 L620.3,269.28 L622.3,270.46 L624.3,271.64 L626.3,272.83 L628.3,274.02 L630.3,275.21 L632.3,276.41 L634.3,277.61 L636.3,278.81 L638.3,280.02 L640.3,281.23 L642.3,282.45 L644.3,283.67 L646.3,284.90 L648.3,286.14 L650.3,287.38 L652.3,288.63 L654.3,289.88 L656.3,291.14 L658.3,292.40 L660.3,293.68 L662.3,294.96 L664.3,296.25 L666.3,297.54 L668.3,298.85 L670.3,300.16 L672.3,301.48 L674.3,302.82 L676.3,304.16 L678.3,305.52 L680.3,306.90 L682.3,308.30 L684.3,309.73 L686.3,311.19 L688.3,312.68 L690.3,314.21 L692.3,315.78 L694.3,317.40 L696.3,319.06 L698.3,320.77 L700.3,322.54 L702.3,324.36 L704.3,326.24 L706.3,328.19 L708.3,330.20 L710.3,332.28 L712.3,334.40 L714.3,336.57 L716.3,338.76 L718.3,340.97 L720.3,343.18 L722.3,345.40 L724.3,347.60 L726.3,349.78 L728.3,351.94 L730.3,354.09 L732.3,356.22 L734.3,358.33 L736.3,360.44 L738.3,362.53 L740.3,364.62 L742.3,366.70 L744.3,368.77 L746.3,370.83 L748.3,372.90 L750.3,374.96 L752.3,377.02 L754.3,379.08 L756.3,381.14 L758.3,383.21 L760.3,385.28 L762.3,387.36 L764.3,389.45 L766.3,391.55 L768.3,393.66 L770.3,395.78 L772.3,397.92 L774.3,400.07 L776.3,402.24 L778.3,404.42 L780.3,406.62 L782.3,408.82 L784.3,411.02 L786.3,413.23 L788.3,415.43 L790.3,417.63 L792.3,419.83 L794.3,422.01 L796.3,424.19 L798.3,426.34 L800.3,428.49 L802.3,430.61 L804.3,432.70 L806.3,434.77 L808.3,436.81 L810.3,438.82 L812.3,440.81 L814.3,442.76 L816.3,444.69 L818.3,446.59 L820.3,448.46 L822.3,450.31 L824.3,452.13 L826.3,453.92 L828.3,455.69 L830.3,457.44 L832.3,459.17 L834.3,460.87 L836.3,462.56 L838.3,464.22 L840.3,465.86 L842.3,467.48 L844.3,469.08 L846.3,470.67 L848.3,472.23 L850.3,473.78 L852.3,475.31 L854.3,476.83 L856.3,478.33 L858.3,479.82 L860.3,481.29 L862.3,482.75 L864.3,484.20 L866.3,485.64 L868.3,487.06 L870.3,488.48 L872.3,489.88 L874.3,491.27 L876.3,492.66 L878.3,494.03 L880.3,495.40 L882.3,496.77 L884.3,498.12 L886.3,499.47 L888.3,500.82 L890.3,502.16 L892.3,503.50 L894.3,504.83 L896.3,506.16 L898.3,507.49 L900.3,508.82 L902.3,510.14 L904.3,511.47 L906.3,512.79 L908.3,514.11 L910.3,515.42 L912.3,516.73 L914.3,518.04 L916.3,519.35 L918.3,520.65 L920.3,521.95 L922.3,523.24 L924.3,524.53 L926.3,525.81 L928.3,527.09 L930.3,528.37 L932.3,529.64 L934.3,530.90 L936.3,532.16 L938.3,533.42 L940.3,534.66 L942.3,535.90 L944.3,537.14 L946.3,538.37 L948.3,539.59 L950.3,540.80 L952.3,542.01 L954.3,543.21 L956.3,544.41 L958.3,545.59 L960.3,546.77 L962.3,547.94 L964.3,549.10 L966.3,550.25 L968.3,551.39 L970.3,552.53 L972.3,553.65 L974.3,554.77 L976.3,555.87 L978.3,556.97 L980.3,558.06 L982.3,559.13 L984.3,560.20 L986.3,561.26 L988.3,562.31 L990.3,563.36 L992.3,564.39 L994.3,565.43 L996.3,566.46 L998.3,567.49 L1000.3,568.51 L1002.3,569.53 L1004.3,570.56 L1006.3,571.58 L1008.3,572.60 L1010.3,573.63 L1012.3,574.66 L1014.3,575.70 L1016.3,576.74 L1018.3,577.78 L1020.3,578.83 L1022.3,579.89 L1024.3,580.96 L1026.3,582.04 L1028.3,583.12 L1030.3,584.22 L1032.3,585.33 L1034.3,586.46 L1036.3,587.59 L1038.3,588.74 L1040.3,589.89 L1042.3,591.05 L1044.3,592.23 L1046.3,593.41 L1048.3,594.60 L1050.3,595.80 L1052.3,597.00 L1054.3,598.21 L1056.3,599.43 L1058.3,600.65 L1060.3,601.88 L1062.3,603.11 L1064.3,604.35 L1066.3,605.59 L1068.3,606.83 L1070.3,608.07 L1072.3,609.32 L1074.3,610.56 L1076.3,611.81 L1078.3,613.06 L1080.3,614.30 L1082.3,615.55 L1084.3,616.79 L1086.3,618.04 L1088.3,619.28 L1090.3,620.53 L1092.3,621.77 L1094.3,623.01 L1096.3,624.26 L1098.3,625.50 L1100.3,626.74 L1102.3,627.99 L1104.3,629.23 L1106.3,630.48 L1108.3,631.73 L1110.3,632.98 L1112.3,634.23 L1114.3,635.49 L1116.3,636.74 L1118.3,638.00 L1120.3,639.26 L1122.3,640.52 L1124.3,641.79 L1126.3,643.06 L1128.3,644.33 L1130.3,645.61 L1132.3,646.89 L1134.3,648.17 L1136.3,649.46 L1138.3,650.75 L1140.3,652.04 L1142.3,653.34 L1144.3,654.65 L1146.3,655.96 L1148.3,657.28 L1150.3,658.60 L1152.3,659.92 L1154.3,661.25 L1156.3,662.59 L1158.3,663.93 L1160.3,665.28 L1162.3,666.64 L1164.3,668.00 L1166.3,669.36 L1168.3,670.73 L1170.3,672.11 L1172.3,673.49 L1174.3,674.88 L1176.3,676.27 L1178.3,677.67 L1180.3,679.07 L1182.3,680.48 L1184.3,681.89 L1186.3,683.30 L1188.3,684.72 L1190.3,686.15 L1192.3,687.58 L1194.3,689.02 L1196.3,690.45 L1198.3,691.90 L1200.3,693.35 L1202.3,694.80 L1204.3,696.25 L1206.3,697.71 L1208.3,699.18 L1210.3,700.65 L1212.3,702.12 L1214.3,703.60 L1216.3,705.08 L1218.3,706.56 L1220.3,708.05 L1222.3,709.54 L1224.3,711.03 L1226.3,712.53 L1228.3,714.03 L1230.3,715.53 L1232.3,717.04 L1234.3,718.55 L1236.3,720.07 L1238.3,721.58 L1240.3,723.10 L1242.3,724.62 L1244.3,726.15 L1246.3,727.68 L1248.3,729.21 L1250.3,730.74 L1252.3,732.28 L1254.3,733.82 L1256.3,735.36 L1258.3,736.90 L1260.3,738.44 L1262.3,739.99 L1264.3,741.54 L1266.3,743.09 L1268.3,744.65 L1270.3,746.20 L1272.3,747.76 L1274.3,749.32 L1276.3,750.88 L1278.3,752.44 L1280.3,754.01 L1282.3,755.57 L1284.3,757.14 L1286.3,758.71 L1288.3,760.28 L1290.3,761.85 L1292.3,763.42 L1294.3,765.00 L1296.3,766.57 L1298.3,768.15 L1300.3,769.72 L1302.3,771.30 L1304.3,772.88 L1306.3,774.46 L1308.3,776.04 L1310.3,777.62 L1312.3,779.20 L1314.3,780.78 L1316.3,782.36 L1318.3,783.94 L1320.3,785.52 L1322.3,787.10 L1324.3,788.69 L1326.3,790.27 L1328.3,791.85 L1330.3,793.43 L1332.3,795.01 L1334.3,796.59 L1336.3,798.18 L1338.3,799.76 L1340.3,801.34 L1342.3,802.92 L1344.3,804.49 L1346.3,806.07 L1348.3,807.64 L1350.3,809.21 L1352.3,810.78 L1354.3,812.34 L1356.3,813.90 L1358.3,815.45 L1360.3,817.00 L1362.3,818.54 L1364.3,820.07 L1366.3,821.60 L1368.3,823.12 L1370.3,824.63 L1372.3,826.14 L1374.3,827.63 L1376.3,829.12 L1378.3,830.59 L1380.3,832.06 L1382.3,833.51 L1384.3,834.95 L1386.3,836.39 L1388.3,837.81 L1390.3,839.22 L1392.3,840.63 L1394.3,842.03 L1396.3,843.42 L1398.3,844.80 L1400.3,846.18 L1402.3,847.55 L1404.3,848.92 L1406.3,850.28 L1408.3,851.64 L1410.3,853.00 L1412.3,854.36 L1414.3,855.71 L1416.3,857.07 L1418.3,858.42 L1420.3,859.77 L1422.3,861.13 L1424.3,862.48 L1426.3,863.84 L1428.3,865.20 L1430.3,866.57 L1432.3,867.94 L1434.3,869.31 L1436.3,870.69 L1438.3,872.07 L1440.3,873.46 L1442.3,874.85 L1444.3,876.24 L1446.3,877.63 L1448.3,879.02 L1450.3,880.42 L1452.3,881.81 L1454.3,883.21 L1456.3,884.60 L1458.3,885.99 L1460.3,887.39 L1462.3,888.78 L1464.3,890.17 L1466.3,891.55 L1468.3,892.94 L1470.3,894.32 L1472.3,895.69 L1474.3,897.06 L1476.3,898.43 L1478.3,899.79 L1480.3,901.15 L1482.3,902.49 L1484.3,903.84 L1486.3,905.17 L1488.3,906.50 L1490.3,907.82 L1492.3,909.13 L1494.3,910.43 L1496.3,911.72 L1498.3,913.01 L1500.3,914.28 L1502.3,915.54 L1504.3,916.79 L1506.3,918.03 L1508.3,919.26 L1510.3,920.47 L1512.3,921.67 L1514.3,922.86 L1516.3,924.03 L1518.0,925.02"/>
<circle cx="232.3" cy="127.3" r="2.5" fill="#FFA55F" stroke="none"/>
</g>
<g stroke-width="5" stroke-linecap="round" shape-rendering="crispEdges">
<line x1="992.5" y1="70.5" x2="1068.5" y2="70.5" stroke="#00FFBC"/>
<line x1="992.5" y1="112.5" x2="1068.5" y2="112.5" stroke="#00FF00"/>
<line x1="992.5" y1="154.5" x2="1068.5" y2="154.5" stroke="#A0EE60"/>
<line x1="992.5" y1="196.5" x2="1068.5" y2="196.5" stroke="#EFE660"/>
<line x1="992.5" y1="238.5" x2="1068.5" y2="238.5" stroke="#FFA55F"/>
</g>
<g filter="url(#hard)">
<text transform="translate(1079.5,82.5) scale(1,1.04)" font-size="34" text-anchor="start">MSN-TEDTH</text>
<text transform="translate(1079.5,124.5) scale(1,1.04)" font-size="34" text-anchor="start">MSN-TEDTH-PEI</text>
<text transform="translate(1079.5,166.5) scale(1,1.04)" font-size="34" text-anchor="start">MSN-TEDTH-PEI-FA</text>
<text transform="translate(1079.5,208.5) scale(1,1.04)" font-size="34" text-anchor="start">MSN-TEDTH-PEI-FA-MPP</text>
<text transform="translate(1079.5,250.5) scale(1,1.04)" font-size="34" text-anchor="start">MSN-TEDTH-PEI-FA-TR</text>
</g>
<g filter="url(#hard)">
<text transform="translate(196,965.6) scale(1,1.04)" font-size="44.5" text-anchor="end">20</text>
<text transform="translate(196,759.1) scale(1,1.04)" font-size="44.5" text-anchor="end">40</text>
<text transform="translate(196,552.7) scale(1,1.04)" font-size="44.5" text-anchor="end">60</text>
<text transform="translate(196,346.2) scale(1,1.04)" font-size="44.5" text-anchor="end">80</text>
<text transform="translate(196,139.8) scale(1,1.04)" font-size="44.5" text-anchor="end">100</text>
</g>
<g filter="url(#hard)">
<text transform="translate(347.3,1123.3) scale(1,1.04)" font-size="44.5" text-anchor="middle">100</text>
<text transform="translate(513.8,1123.3) scale(1,1.04)" font-size="44.5" text-anchor="middle">200</text>
<text transform="translate(680.3,1123.3) scale(1,1.04)" font-size="44.5" text-anchor="middle">300</text>
<text transform="translate(846.8,1123.3) scale(1,1.04)" font-size="44.5" text-anchor="middle">400</text>
<text transform="translate(1013.3,1123.3) scale(1,1.04)" font-size="44.5" text-anchor="middle">500</text>
<text transform="translate(1179.8,1123.3) scale(1,1.04)" font-size="44.5" text-anchor="middle">600</text>
<text transform="translate(1346.3,1123.3) scale(1,1.04)" font-size="44.5" text-anchor="middle">700</text>
<text transform="translate(1512.8,1123.3) scale(1,1.04)" font-size="44.5" text-anchor="middle">800</text>
</g>
<g filter="url(#hard)">
<text transform="translate(0,1205.4) scale(1,1.04)" font-size="53.9" text-anchor="start"><tspan x="663.6">Temperature </tspan><tspan x="985.2">(</tspan><tspan x="1003.8" font-size="36" dy="-18.1" stroke="#000" stroke-width="0.7">o</tspan><tspan x="1024.2" dy="18.1">C</tspan><tspan x="1062.4">)</tspan></text>
</g>
<g filter="url(#hard)">
<text transform="translate(63.4,512.3) rotate(-90) scale(1,1.04)" font-size="53.9" text-anchor="middle">Weight (%)</text>
</g>
</svg></body></html>
